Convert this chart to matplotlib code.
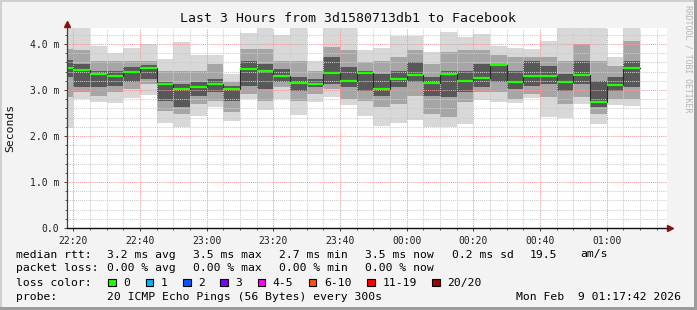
import numpy as np, matplotlib
matplotlib.use('Agg')
import matplotlib.pyplot as plt
from matplotlib.patches import Rectangle
from matplotlib.ticker import MultipleLocator, FuncFormatter

W, H = 697, 310
MONO = 'DejaVu Sans Mono'

# 5-minute bins (start time of each bin)
bin_start = ['22:15', '22:20', '22:25', '22:30', '22:35', '22:40', '22:45', '22:50', '22:55',
             '23:00', '23:05', '23:10', '23:15', '23:20', '23:25', '23:30', '23:35', '23:40',
             '23:45', '23:50', '23:55', '00:00', '00:05', '00:10', '00:15', '00:20', '00:25',
             '00:30', '00:35', '00:40', '00:45', '00:50', '00:55', '01:00', '01:05']

# median rtt in ms
median = [3.47, 3.44, 3.35, 3.30, 3.40, 3.48, 3.13, 3.02, 3.07, 3.13, 3.02, 3.46, 3.42, 3.30,
          3.16, 3.13, 3.38, 3.20, 3.38, 3.02, 3.25, 3.33, 3.16, 3.35, 3.20, 3.27, 3.54, 3.18,
          3.30, 3.30, 3.18, 3.33, 2.74, 3.11, 3.48]

# smoke bands (ms): outer = min/max ping, mid and inner = inner ping ranges
outer_hi = [4.40, 4.40, 3.96, 3.80, 3.91, 4.00, 3.67, 4.05, 3.76, 3.76, 3.35, 4.24, 4.40, 4.20,
            4.40, 3.62, 4.40, 4.40, 3.86, 3.91, 4.17, 4.17, 3.82, 4.27, 4.15, 4.22, 3.96, 3.91,
            3.89, 4.06, 4.40, 4.40, 4.40, 3.72, 4.40]
outer_lo = [2.17, 2.80, 2.75, 2.72, 2.83, 2.90, 2.28, 2.20, 2.44, 2.62, 2.33, 2.80, 2.57, 2.80,
            2.46, 2.73, 2.85, 2.68, 2.44, 2.22, 2.29, 2.35, 2.20, 2.20, 2.26, 2.78, 2.73, 2.71,
            2.83, 2.42, 2.39, 2.70, 2.26, 2.67, 2.66]
mid_hi = [3.90, 3.86, 3.64, 3.64, 3.64, 3.64, 3.42, 3.42, 3.42, 3.57, 3.17, 3.89, 3.89, 3.64,
          3.64, 3.42, 3.93, 3.86, 3.60, 3.64, 3.71, 3.86, 3.57, 3.82, 3.86, 3.86, 3.75, 3.71,
          3.71, 3.71, 3.64, 4.00, 3.64, 3.53, 4.07]
mid_lo = [2.85, 2.95, 2.88, 2.95, 3.02, 3.12, 2.55, 2.48, 2.70, 2.77, 2.52, 2.91, 2.77, 3.06,
          2.77, 2.91, 3.02, 2.80, 2.77, 2.62, 2.70, 2.88, 2.48, 2.41, 2.73, 2.95, 2.95, 2.80,
          2.91, 2.84, 2.70, 2.84, 2.48, 2.80, 2.80]
inner_hi = [3.65, 3.57, 3.42, 3.42, 3.49, 3.55, 3.17, 3.13, 3.17, 3.24, 3.09, 3.64, 3.57, 3.46,
            3.28, 3.24, 3.71, 3.49, 3.42, 3.35, 3.42, 3.60, 3.28, 3.42, 3.42, 3.57, 3.57, 3.42,
            3.64, 3.53, 3.35, 3.64, 3.20, 3.28, 3.64]
inner_lo = [3.29, 3.06, 3.06, 3.09, 3.17, 3.24, 2.77, 2.62, 2.88, 2.95, 2.77, 3.09, 3.02, 3.17,
            2.98, 3.06, 3.13, 3.06, 2.98, 2.88, 3.06, 3.17, 2.88, 2.84, 2.95, 3.06, 3.17, 3.02,
            3.09, 3.13, 2.98, 3.13, 2.62, 2.98, 3.06]

xtick_labels = ['22:20', '22:40', '23:00', '23:20', '23:40', '00:00', '00:20', '00:40', '01:00']

loss_labels = ['0', '1', '2', '3', '4-5', '6-10', '11-19', '20/20']
loss_colors = ['#20ff00', '#00b8ff', '#0059ff', '#7e00ff', '#ff00ff', '#ff5500', '#ff0000', '#a10000']

rtt_stats = ['3.2 ms avg', '3.5 ms max', '2.7 ms min', '3.5 ms now', '0.2 ms sd', '19.5', 'am/s']
loss_stats = ['0.00 % avg', '0.00 % max', '0.00 % min', '0.00 % now']


def to_min(t):
    h, m = map(int, t.split(':'))
    return (h + 24 if h < 12 else h) * 60 + m - 22 * 60


def fx(x):
    return x / W


def fy(y):
    return 1 - y / H


x0 = np.array([to_min(t) for t in bin_start], dtype=float)
step = 5.0

fig = plt.figure(figsize=(W / 100, H / 100), dpi=100, facecolor='#f3f3f3')
ax = fig.add_axes([67 / W, 82 / H, 600 / W, 200 / H])
ax.set_facecolor('white')
ax.set_xlim(18.1, 198.1)
ax.set_ylim(0, 200 / 46)

for lo, hi, c in [(outer_lo, outer_hi, '#d8d8d8'), (mid_lo, mid_hi, '#a6a6a6'),
                  (inner_lo, inner_hi, '#585858')]:
    lo, hi = np.array(lo), np.array(hi)
    ax.bar(x0, hi - lo, bottom=lo, width=step, align='edge', color=c, linewidth=0, zorder=1)

# grid over the smoke
ax.xaxis.set_major_locator(MultipleLocator(20))
ax.xaxis.set_minor_locator(MultipleLocator(5))
ax.yaxis.set_major_locator(MultipleLocator(1))
ax.yaxis.set_minor_locator(MultipleLocator(0.2))
ax.grid(which='minor', color='#cccccc', lw=0.75, ls=(0, (1, 1)), zorder=2)
ax.grid(which='major', color='#f09a9a', lw=0.75, ls=(0, (1, 1)), zorder=2)
ax.set_axisbelow(False)

# median line with step connectors
xs = np.append(x0, x0[-1] + step)
ax.plot(xs, np.append(median, median[-1]), drawstyle='steps-post', color='#2a2a2a', lw=0.8, zorder=4)
ax.hlines(median, x0, x0 + step, colors=loss_colors[0], lw=1.6, zorder=5)

tick_pos = [to_min(t) for t in xtick_labels]
ax.set_xticks(tick_pos)
ax.set_xticklabels(xtick_labels)
ax.yaxis.set_major_formatter(FuncFormatter(lambda v, p: '0.0' if v == 0 else f'{v:.1f} m'))
ax.tick_params(which='major', length=2.5, width=0.7, color='#404040', labelsize=7, pad=3)
ax.tick_params(which='minor', length=1.5, width=0.6, color='#404040')
for lab in ax.get_xticklabels() + ax.get_yticklabels():
    lab.set_family(MONO)
    lab.set_color('#202020')

for s in ax.spines.values():
    s.set_visible(False)
ax.plot([0, 0], [0, 1.02], transform=ax.transAxes, color='#404040', lw=0.9, clip_on=False, zorder=6)
ax.plot([0, 1.0], [0, 0], transform=ax.transAxes, color='#101010', lw=1.0, clip_on=False, zorder=6)
ax.plot(0, 1.02, marker='^', ms=4, color='#8b1010', transform=ax.transAxes, clip_on=False, zorder=7)
ax.plot(1.005, 0, marker='>', ms=4, color='#8b1010', transform=ax.transAxes, clip_on=False, zorder=7)

fig.text(fx(347.5), fy(18.5), 'Last 3 Hours from 3d1580713db1 to Facebook', ha='center', va='center',
         family=MONO, size=9.5, color='#101010')
fig.text(fx(10), fy(128), 'Seconds', rotation=90, ha='center', va='center', family=MONO, size=8.2,
         color='#101010')
fig.text(fx(688), fy(59), 'RRDTOOL / TOBI OETIKER', rotation=270, ha='center', va='center',
         family=MONO, size=5.9, color='#b4b4b4')

# legend rows
LS = 8.2
fig.text(fx(16), fy(257.5), 'median rtt:', family=MONO, size=LS, va='baseline')
for s, x in zip(rtt_stats, [106.7, 193.3, 279.3, 365, 451.7, 530, 580]):
    fig.text(fx(x), fy(257.5), s, family=MONO, size=LS, va='baseline')
fig.text(fx(16), fy(271.2), 'packet loss:', family=MONO, size=LS, va='baseline')
for s, x in zip(loss_stats, [106.7, 193.3, 279.3, 365]):
    fig.text(fx(x), fy(271.2), s, family=MONO, size=LS, va='baseline')
fig.text(fx(16), fy(285.7), 'loss color:', family=MONO, size=LS, va='baseline')
sx = 108.3
for lab, c in zip(loss_labels, loss_colors):
    fig.add_artist(Rectangle((fx(sx), fy(286)), 7.5 / W, 7.5 / H, transform=fig.transFigure,
                             facecolor=c, edgecolor='black', lw=0.8))
    fig.text(fx(sx + 15), fy(285.7), lab, family=MONO, size=LS, va='baseline')
    sx += 30.4 + 6.95 * len(lab)
fig.text(fx(16), fy(300), 'probe:', family=MONO, size=LS, va='baseline')
fig.text(fx(106.7), fy(300), '20 ICMP Echo Pings (56 Bytes) every 300s', family=MONO, size=LS, va='baseline')
fig.text(fx(681), fy(300), 'Mon Feb  9 01:17:42 2026', family=MONO, size=LS, va='baseline', ha='right')

# frame
for (x, y, w, h, c) in [(0, 0, W, 2, '#d0d0d0'), (0, 0, 2, H, '#d0d0d0'),
                        (0, H - 3, W, 3, '#9c9c9c'), (W - 3, 0, 3, H, '#9c9c9c')]:
    fig.add_artist(Rectangle((fx(x), fy(y + h)), w / W, h / H, transform=fig.transFigure, color=c, lw=0))

fig.savefig('out.png', dpi=100, facecolor=fig.get_facecolor())
